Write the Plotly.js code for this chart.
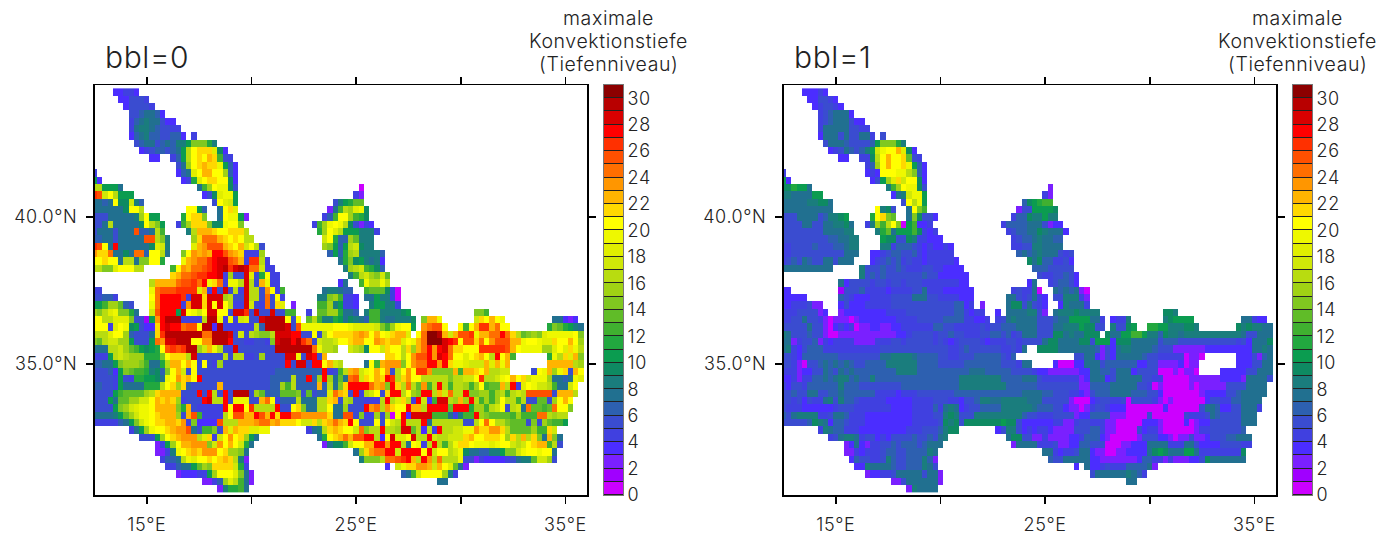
<!DOCTYPE html>
<html><head><meta charset="utf-8">
<script src="https://cdn.plot.ly/plotly-3.0.1.min.js"></script>
<style>html,body{margin:0;padding:0;background:#fff}
svg text{letter-spacing:.6px}</style></head>
<body><div id="chart" style="width:1391px;height:534px"></div>
<script>
// level codes: 0-9 then a=10 ... u=30. "col:codes" starts at a column, a bare group continues from the last one.
const rowsBbl0 = [
"4:33443","5:335554","6:355554","7:5567763","7:467877533","7:4788765544","7:36786655663 19:4",
"8:5677567688aeeeb8","9:34566567agkllli93","11:33 15:46agklkmlc54","16:57fklmllja63","0:4 16:367ikmmkkf63",
"0:a3 17:34bikllkk93","0:ggaaa7 20:7cfkjj95 51:0","0:qphkgaaa 21:359ijja 50:42","0:7767k99h86 23:5kiha 46:58abdd",
"0:7777779kkg 18:kka6 24:7kli 45:27cgfij9","0:555777778fkaa 17:bklle 24:7kjja2 44:46ckkfcb9",
"0:557g777779kgea 16:4cfllle99jkke 42:4cfjkjg95243","0:57775777p667gc 18:8gmmmlkklllg 43:bfkigaaa8884",
"0:6677577777ppge8 19:flooomlklkgg 44:hkb66fd888","0:qpk7r7777779ih8 19:imnpppmlkmhkg5 44:fea6agh988",
"0:nllo7797oo6kkg7 17:eknmnmrrpnml444f 45:6a6bfg88886","0:kklkk7gg7eekkb 17:jmnooqrsspom4qqg4 47:7be9a8783",
"0:ggeeikkkgg 15:cknmoopqrstqstsooh44 48:8fghcb96","15:lmoopqqrrs4f55si5bk44 49:8cghfehd",
"11:gmmmmoppqorjlo4jjgsg5mj44 47:37 51:cjggjg","0:44 11:jopppqqqqim4r5s5g4sgg5nk4c 44:788766 52:cddd940",
"0:55664 11:korrrrq4sslsssfg55sgg5o5k4 43:88efc443 52:77a8840","0:aacffd65 11:jorrrr4nsslskskg44sh54o5li 38:2 43:ccf8a443 53:8aa884",
"0:fegijeeb7 11:hprrraskjhksskk5ssq5s55s55 37:cc 41:4 43:ddffb776 52:8cc88889a 73:eec",
"0:kkggiiie551anrttt4444gttj4j4hi55sttttk5k 41:dgc88ba79876cc8778889 63:emmj 73:hlkmkj 88:77323",
"0:kkk4ikj9a533lrsrroppk tt3t 444444 g6 tttt s5p jjjjjj kkk j iiii hecfjkka 63:noppk 70:kckmqqmokk 87:bedba87",
"0:gggikkf65557lq ttttttt oo ttt s5h5gfeegsssrr55k5gk llllmnmkmkjlmmi 62:kouutmhmppqjmmoorolgdefeijjjjjke",
"0:edghhffa555aonsstttkknntttr5 544554 esttrtqo5hggh kklmmkknmlmmikjmouuusrqkpplokn pppmmjkkjiilkkmkf",
"0:777gghfdca9abkpqpqttfhmjg54s 5555555 ttttttt ojggf 49:hgf9kkhlkkglfmornrsollkkkqqqqqpmkjjjjffikiljg",
"0:444aghgfffbbbeklllgs 55555 g5gg445f 5555 ssj5sr5m 56:llkgknpprnsrokkiklmkgrkmc 87:bjglime",
"0:6677aefffec77bgmmkmk5k54f 555555555555 r5ss5rrkmhg 52:7kcmnnneknoorrnrljjihhhmimjm 87:mmmmmgf",
"0:55563aedccb896ekmh5k 555555555555555 666666666 r45cgmnhjkmkn5gknkqqneeeemcmmlkmgghh 84:5kjmfjl5mk",
"0:55554a54bbaa97jknlmkr 5555555555555 6666g66r6frf7d7 ophlkmlrqglnkk ggggg egghh kqgghjkmklhjjjf7767ji",
"0:66554a7777bbbgklfl65 5555 m 555555555 66fcg6666m6g7el rrrr omnerlgogdncgrgcggfcfkcddmgr4ikjhhgc77hk",
"0:5555acddddfglmmmm555r5rg5r5ttt5fd666ddde5d566io ml5r4ghk5lrrgkferrgmhoggreeffcfgcghg ppppp5mmmg",
"0:555a7ddffhhkmlmlf4555rsggr5jjj55mok4666g777gglm 5gf55444grgilg4rh3cssgfmfrgcfcfkggcg55dd5fkmk",
"0:5555aefhijjkmmmmebm5 44444 rkrrkqggggr55kle77ggk7 7f555rnognlkkrmmgrrrrdrrrbffcghk5gh7oddcdokke",
"0:77778adfhjjklmmmf5mpc 4444 gkppmmrpmrlrroo nnnnn l7 7pp5e44f5f0kr3ssssccc748ccrfeddddcfcccoogfgg",
"0:4444467aehjkllmmln4e 3333 pgggmmmnoomnlllkhhlglmo mlrk555k5khgrgggr7gggggg55gkokggeddd5e5fdcca",
"7:47afjkklmnnp75cce5mimlliijj 41:478glmlkkhoeggrggfssdg3g4rgghhjjnllnnlgddddfcclh",
"9:555afklmnnngil4hknklfa7 43:7bklmompprrg3ksiiksggrhgghhhlmkklllkflgmgle7me7",
"12:24afkmmnnnehnkmkhb7 44:2799chkkmmrrnrrg7kj4grgcgjllkjjjijkkhghklmmcg5",
"12:2248jklmlnnnklffe7 50:7flnoorrhrrrrkrhkkghj97766 88aeehjkkjkk7",
"13:4667gjikklklmlg82 51:8eeegoopqrmgrngogggj55243333 45788dhhf5",
"14:44677adfellllhb4 56:3 58:hjllnnmhmkid72","16:233344afkkkie72 59:67chkkkkf84","21:2246figc72 66:77","24:28bbc7"
];
const rowsBbl1 = [
"4:33343","5:335543","6:345543","7:4567773","7:456777533","7:4777775544","7:37775755774 19:5",
"8:5777655556aeeeb8","9:34576568ahjkkmi93","11:33 15:449gkmkkld54","16:46fkmkklja63","0:4 16:343kkkjjge63",
"0:a3 17:35afilhkk93","0:99baa7 20:8cfkjj95 51:2","0:887777aa 21:378hjja 50:42","0:7777788997 23:5kgja 46:69abcc",
"0:7777777777 18:k895 24:7kec 45:255aaaa9","0:555777756889a 17:bkled 24:7e9553 44:466988a88",
"0:55557755778897 16:48fcgke0ac334 42:466667775233","0:55555555777788 18:8bd7aaac9434 43:456677987773",
"0:555555555667788 19:a99559844333 44:4566787766","0:445555655566788 19:88466654343343 44:4455887777",
"0:445555555555777 17:3345665564344444 45:67678777545","0:45657655775777 17:34565645443444443 47:979664453",
"0:7777777777 15:85556556544455443333 48:66655555","15:856565555555655333333 49:54455653",
"11:7355554554554555444444433 47:37 51:456653","0:33 11:15556444434444557444333333 44:454470 52:7676720",
"0:33333 11:65433344445555777554444333 43:77545743 52:5588842","0:33444522 11:3533344444 555555555555 6634 38:2 43:79957543 53:387774",
"0:444555523 11:2 33333333 4444 555555555 6643 37:44 41:3 43:77778852 52:788898888 73:998",
"0:445575542022202 3333333 4444 55555 6666 44334 41:45787777555677aaaa774 63:3448 73:89aaaa 88:77433",
"0:55555755 20343 40 22332233 444444 6655 44444 54 5566677 77 555 77 888 a99 55 63:8559a 70:bbaa888998 87:9898877",
"0:87555655 200 22 222222222 33 4 5555 455655 444 55 66 5 6 4 5 777 555 99 7877 999 62:977aacca8869887 88888888888 755777",
"0:772455624 3 4444 2222 444 55 4 55555 45434 5555 43 444 55 4 5555 7 99 7777 99 5 aaa 3 999 77777 5 666 55555555555 4 5 3 777 9",
"0:78435666 44444444444 5555555555555 44 56 555555 44 5 4 7 49:9999 7777777 6253 788 7777 6555 222222 333333333 7787",
"0:5543 6666666 55555555 77 8888 7 6666 55 44 555 66666 546 56:55773253 77777 6 55 44444 0220 87:3335267",
"0:55420 556767676 55 6666 888888 6666 55555 6666666 555 4 77 52:3000337775666666335522223022 87:3335577",
"0:444 233 55 765767 66666666 8888 6666666666 777 66666 5555 4 33 222222 33 77 66 5 777 3 5555 000 2 0 22 0 84:3333355777",
"0:334244667678867668 6666666666666666 88888888 6666 777 5 4444444 23 777 35 77777 5544 00000 222222 3333 2 7777 5",
"0:43554 666666 8 666 55555555 66666666666 888888888 666666 55555555 22 6666 77777 554 02 00000 20 22222 5555 7777",
"0:556557755667 666666 4444 3 444 5555555 6666666666666 7777 66 555 44 3 2 5 666 7777 666 55 3 0000000 2 3333 55 6 77777",
"0:554535447858665 44444 33333 4444 555 44 3 55 6 88 77 88888 777 55555 2 000 3 4 55 44 5 0 5555 4 2 0 2 000000 3 55 44 66 7777",
"0:5444 333333 4 555 4444444 3333 4444 6 4 787 3 4 55 6666 888888 7 666 55 3 22 0 2 4 55 4 333 0000000 3 000000 5 77 6 33 55 777 4",
"0:657 8888 445776 444 333333333 4444 55 898 555 888888888 6 55 444 5555 2 33 6666 222 0000 5 000000 5 444 5 7 6 5555 777",
"0:55555 69873665 444 333333333 44444 5 989 5 9999999 a99 5 333333 44 22 4 55 444 22 00000 333 2 0000 3 0 2 33 555555 777",
"7:48766 444 333333333 444 555 6899 41:35885 343443 2222 555 66 4 22 0000 5 3 44 2 000000 2 44 555555 6",
"9:45788745534355556556578 43:79955224 2222 334 666 32 00000 2 555 33 2 0 22 5 22 3 555 66 777",
"12:2373244556566656777 44:27777 444 5 22 33 66 555 000 22 333 7777 444 77 5 3333 5555 44",
"12:224344456655666687 50:7743445 77 3 22 00 22 3333 79a9 777 aa 7 44444444 9",
"13:36554458655666862 51:655 77777 33 2222222 3 66 44 2 4 222 33 5 9 7777777",
"14:3387777655666875 56:3 58:73345444666672","16:233445777775772 59:57777778764","21:2257777772 66:77","24:287777"
];
const levelCodes = "0123456789abcdefghijklmnopqrstu";
const levelColors = ["#cc00ff","#a000ff","#7a20ff","#4b2dff","#4040e0","#3a4cd0","#2d60b0","#217090","#1a7d7d","#0e8a62","#0b9c50","#22a83f","#40b030","#60bc28","#80c820","#a0d214","#b8dc10","#d0e808","#e0ee00","#eef800","#ffff00","#ffd800","#ffb400","#ff9600","#ff6e00","#ff5000","#ff3000","#ff0000","#d80000","#b80000","#8c0000"];
const lonTicks = [15,20,25,30,35];
const lonLabels = ["15°E","","25°E","","35°E"];
const latTicks = [35,40];
const latLabels = ["35.0°N","40.0°N"];
const barTicks = [0,2,4,6,8,10,12,14,16,18,20,22,24,26,28,30];
const panelTitles = ["bbl=0","bbl=1"];
const unitLines = ["maximale","Konvektionstiefe","(Tiefenniveau)"];
const nCols = 95, nRows = 55;

function decode(rows){
  return rows.map(r=>{
    const a = new Array(nCols).fill(null);
    let pos = 0;
    r.split(" ").forEach(seg=>{
      let vals = seg;
      const i = seg.indexOf(":");
      if(i>=0){ pos = +seg.slice(0,i); vals = seg.slice(i+1); }
      for(const c of vals){ if(pos<nCols) a[pos]=levelCodes.indexOf(c); pos++; }
    });
    return a;
  });
}
const lons = Array.from({length:nCols},(_,k)=>12.5+0.25*k);
const lats = Array.from({length:nRows},(_,r)=>44.25-0.25*r);
const cs = [];
levelColors.forEach((c,i)=>{cs.push([i/31,c]);cs.push([(i+1)/31,c]);});

const W=1391,H=534, panelX=[[94.5,587],[783.5,1276]], barX=[[604,623],[1293,1312]];
const plotTop=85,plotBot=495;
const yd=[1-plotBot/H,1-plotTop/H];
const fam="Inter,'DejaVu Sans',sans-serif", ink="#222";
const tf={family:fam,size:18,weight:300,color:ink};
const layout={width:W,height:H,margin:{l:0,r:0,t:0,b:0},showlegend:false,paper_bgcolor:"#fff",plot_bgcolor:"#fff",
  font:tf,annotations:[],shapes:[]};
const traces=[];
[rowsBbl0,rowsBbl1].forEach((rows,p)=>{
  const n=p*2+1, xa="x"+(n===1?"":n), ya="y"+(n===1?"":n), xb="x"+(n+1), yb="y"+(n+1);
  const key=s=>s.replace("x","xaxis").replace("y","yaxis");
  traces.push({type:"heatmap",x:lons,y:lats,z:decode(rows),xaxis:xa,yaxis:ya,colorscale:cs,zmin:-0.5,zmax:30.5,showscale:false,hoverongaps:false,zsmooth:false});
  layout[key(xa)]={domain:[panelX[p][0]/W,panelX[p][1]/W],range:[12.5,36.03],anchor:ya,tickmode:"array",tickvals:lonTicks,ticktext:lonLabels,ticks:"outside",ticklen:7,tickwidth:1.5,tickcolor:"#000",showline:true,linewidth:1.5,linecolor:"#000",mirror:"allticks",showgrid:false,zeroline:false,tickfont:tf,ticklabelstandoff:6};
  layout[key(ya)]={domain:yd,range:[30.54,44.49],anchor:xa,tickmode:"array",tickvals:latTicks,ticktext:latLabels,ticks:"outside",ticklen:7,tickwidth:1.5,tickcolor:"#000",showline:true,linewidth:1.5,linecolor:"#000",mirror:"allticks",showgrid:false,zeroline:false,tickfont:tf,ticklabelstandoff:5};
  traces.push({type:"heatmap",x:[0],y:levelColors.map((_,i)=>i+0.5),z:levelColors.map((_,i)=>[i]),xaxis:xb,yaxis:yb,colorscale:cs,zmin:-0.5,zmax:30.5,showscale:false,ygap:1,hoverinfo:"skip"});
  layout[key(xb)]={domain:[barX[p][0]/W,barX[p][1]/W],range:[-0.5,0.5],anchor:yb,showticklabels:false,ticks:"",showgrid:false,zeroline:false,showline:true,linecolor:"#777",linewidth:1,mirror:true};
  layout[key(yb)]={domain:yd,range:[0,31],anchor:xb,side:"right",tickmode:"array",tickvals:barTicks,ticks:"",ticklen:0,showgrid:false,zeroline:false,showline:true,linecolor:"#777",linewidth:1,mirror:true,tickfont:tf};
  layout.shapes.push({type:"rect",layer:"below",xref:xb+" domain",yref:yb+" domain",x0:0,x1:1,y0:0,y1:1,fillcolor:"#222",line:{width:0}});
  layout.annotations.push({text:panelTitles[p],xref:"paper",yref:"paper",x:(panelX[p][0]+8)/W,y:1-77/H,xanchor:"left",yanchor:"bottom",showarrow:false,font:{family:fam,size:30,weight:300,color:ink}});
  unitLines.forEach((t,i)=>layout.annotations.push({text:t,xref:"paper",yref:"paper",x:(barX[p][0]+4)/W,y:1-(18+23*i)/H,xanchor:"center",yanchor:"middle",showarrow:false,font:{family:fam,size:19.5,weight:300,color:ink}}));
});
Plotly.newPlot("chart",traces,layout,{staticPlot:true,displayModeBar:false});
</script></body></html>
